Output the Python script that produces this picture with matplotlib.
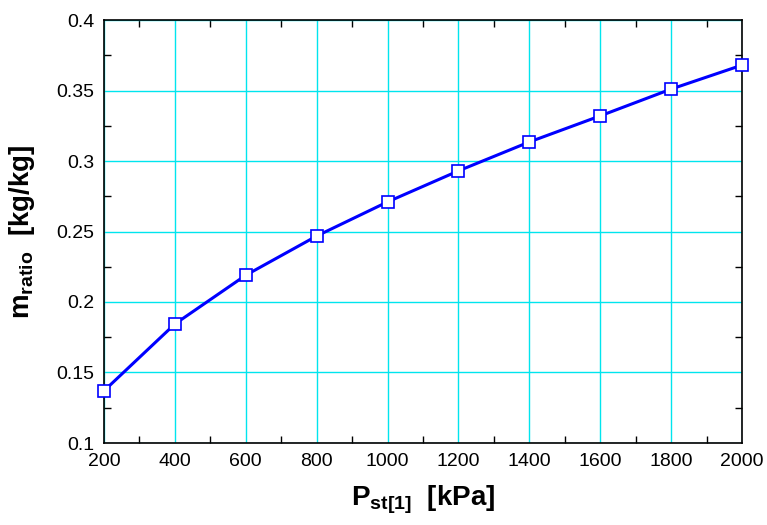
import numpy as np
import matplotlib.pyplot as plt
from matplotlib.ticker import MultipleLocator

plt.rcParams['font.family'] = ['Liberation Sans', 'DejaVu Sans']
plt.rcParams['mathtext.fontset'] = 'custom'
plt.rcParams['mathtext.bf'] = 'Liberation Sans:bold'
plt.rcParams['mathtext.rm'] = 'Liberation Sans'

p_st = [200, 400, 600, 800, 1000, 1200, 1400, 1600, 1800, 2000]
m_ratio = [0.137, 0.1844, 0.219, 0.2468, 0.271, 0.293, 0.3135, 0.332, 0.351, 0.368]

fig = plt.figure(figsize=(7.67, 5.25), dpi=100)
ax = fig.add_axes([104 / 767, 1 - 443 / 525, 638 / 767, 423 / 525])

ax.plot(p_st, m_ratio, color='#0000ff', lw=2.2, marker='s', ms=8,
        mfc='white', mec='#0000ff', mew=1.2, clip_on=False, zorder=3)

ax.set_xlim(200, 2000)
ax.set_ylim(0.1, 0.4)
ax.xaxis.set_major_locator(MultipleLocator(200))
ax.xaxis.set_minor_locator(MultipleLocator(100))
ax.yaxis.set_minor_locator(MultipleLocator(0.025))
ax.set_yticks(np.arange(0.1, 0.401, 0.05))
ax.set_yticklabels(['0.1', '0.15', '0.2', '0.25', '0.3', '0.35', '0.4'])
ax.grid(True, which='major', color='#00e5ee', lw=1)
ax.tick_params(which='major', length=0, labelsize=14, pad=7)
ax.tick_params(which='minor', direction='in', length=5, width=1,
               top=True, right=True, labelbottom=False, labelleft=False)
for s in ax.spines.values():
    s.set_linewidth(1.2)

ax.set_xlabel(r'$\mathbf{P_{st[1]}}$  [kPa]', fontsize=20, fontweight='bold', labelpad=10)
ax.set_ylabel(r'$\mathbf{m_{ratio}}$  [kg/kg]', fontsize=20, fontweight='bold', labelpad=14)

fig.savefig('out.png', dpi=100)
